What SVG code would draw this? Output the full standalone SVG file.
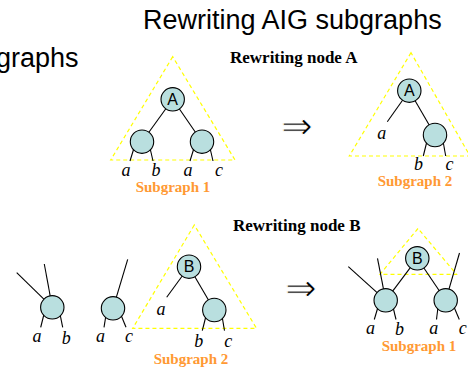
<svg xmlns="http://www.w3.org/2000/svg" width="468" height="369" viewBox="0 0 468 369">
<style>
.title{font-family:"Liberation Sans",Arial,sans-serif;font-size:27px;fill:#000}
.head{font-family:"Liberation Serif","Times New Roman",serif;font-size:17px;font-weight:bold;fill:#000}
.sub{font-family:"Liberation Serif","Times New Roman",serif;font-size:15px;font-weight:bold;fill:#ff9933;text-anchor:middle}
.var{font-family:"Liberation Serif","Times New Roman",serif;font-size:18px;font-style:italic;fill:#000;text-anchor:middle}
.arrow{font-family:"DejaVu Sans",sans-serif;font-size:38px;fill:#000;stroke:#fff;stroke-width:1;text-anchor:middle}
.tri{fill:none;stroke:#ffff00;stroke-width:1.2;stroke-dasharray:4,3}
.edge{stroke:#000;stroke-width:1.1;fill:none}
.node circle{fill:#b9dfdf;stroke:#000;stroke-width:1.1}
.lbl{font-family:"Liberation Sans",Arial,sans-serif;font-size:16px;fill:#000;text-anchor:middle}
</style>
<rect width="468" height="369" fill="#fff"/>
<text class="title" x="143" y="29">Rewriting AIG subgraphs</text>
<text class="title" x="-4" y="67">graphs</text>
<text class="head" x="230" y="63">Rewriting node A</text>
<text class="head" x="233" y="231">Rewriting node B</text>

<g id="subgraphs">
<polygon class="tri" points="172.7,56.7 110.7,160 235,160"/>
<polygon class="tri" points="411,52.7 349.3,156 470,156"/>
<polygon class="tri" points="194.3,225 132.7,328.3 256.5,328.3"/>
<polygon class="tri" points="418,228.5 380,274.3 456.5,274.3"/>
</g>

<g id="connectors">
<line class="edge" x1="172.7" y1="99.3" x2="142" y2="141.7"/>
<line class="edge" x1="172.7" y1="99.3" x2="202" y2="141.7"/>
<line class="edge" x1="134" y1="148" x2="130" y2="161"/>
<line class="edge" x1="150" y1="148" x2="153" y2="161"/>
<line class="edge" x1="194" y1="148" x2="190" y2="161"/>
<line class="edge" x1="210" y1="148" x2="213" y2="161"/>
<line class="edge" x1="409.3" y1="90.7" x2="387.3" y2="121.7"/>
<line class="edge" x1="409.3" y1="90.7" x2="435" y2="135"/>
<line class="edge" x1="427" y1="141" x2="423.3" y2="156"/>
<line class="edge" x1="443" y1="141" x2="445.7" y2="156"/>
<line class="edge" x1="16.7" y1="272.7" x2="52.3" y2="307.3"/>
<line class="edge" x1="44.3" y1="264" x2="52.3" y2="307.3"/>
<line class="edge" x1="44" y1="314" x2="40.7" y2="327.3"/>
<line class="edge" x1="60" y1="314" x2="62.7" y2="327.3"/>
<line class="edge" x1="127.7" y1="259.3" x2="113" y2="308.3"/>
<line class="edge" x1="106" y1="315" x2="104" y2="327.3"/>
<line class="edge" x1="121" y1="315" x2="126" y2="327.3"/>
<line class="edge" x1="189" y1="266.7" x2="166.7" y2="297.3"/>
<line class="edge" x1="189" y1="266.7" x2="214.3" y2="310"/>
<line class="edge" x1="206" y1="316" x2="202.3" y2="330.7"/>
<line class="edge" x1="222" y1="316" x2="224.5" y2="330.7"/>
<line class="edge" x1="417.3" y1="258.3" x2="385.7" y2="300.3"/>
<line class="edge" x1="417.3" y1="258.3" x2="445.7" y2="300.3"/>
<line class="edge" x1="348.3" y1="266.7" x2="385.7" y2="300.3"/>
<line class="edge" x1="377.5" y1="258.3" x2="385.7" y2="300.3"/>
<line class="edge" x1="459.5" y1="253" x2="445.7" y2="300.3"/>
<line class="edge" x1="378" y1="307" x2="374.3" y2="319.5"/>
<line class="edge" x1="393" y1="307" x2="396" y2="319.5"/>
<line class="edge" x1="438" y1="307" x2="436.5" y2="319.5"/>
<line class="edge" x1="454" y1="307" x2="459.3" y2="319.5"/>
</g>

<g id="nodeA1" class="node"><circle cx="172.7" cy="99.3" r="11.7"/><text class="lbl" x="172.7" y="105">A</text></g>
<g id="nodeL1" class="node"><circle cx="142" cy="141.7" r="11.7"/></g>
<g id="nodeR1" class="node"><circle cx="202" cy="141.7" r="11.7"/></g>
<g id="nodeA2" class="node"><circle cx="409.3" cy="90.7" r="11.7"/><text class="lbl" x="409.3" y="96.4">A</text></g>
<g id="nodeR2" class="node"><circle cx="435" cy="135" r="11.7"/></g>
<g id="nodeX1" class="node"><circle cx="52.3" cy="307.3" r="11.7"/></g>
<g id="nodeX2" class="node"><circle cx="113" cy="308.3" r="11.7"/></g>
<g id="nodeB1" class="node"><circle cx="189" cy="266.7" r="11.7"/><text class="lbl" x="189" y="272.4">B</text></g>
<g id="nodeR3" class="node"><circle cx="214.3" cy="310" r="11.7"/></g>
<g id="nodeB2" class="node"><circle cx="417.3" cy="258.3" r="11.7"/><text class="lbl" x="417.3" y="264">B</text></g>
<g id="nodeL4" class="node"><circle cx="385.7" cy="300.3" r="11.7"/></g>
<g id="nodeR4" class="node"><circle cx="445.7" cy="300.3" r="11.7"/></g>

<g id="labels">
<text class="var" x="126" y="176">a</text>
<text class="var" x="156" y="176">b</text>
<text class="var" x="188" y="176">a</text>
<text class="var" x="219" y="176">c</text>
<text class="sub" x="173" y="192">Subgraph 1</text>
<text class="var" x="381.7" y="139.3">a</text>
<text class="var" x="418.5" y="170">b</text>
<text class="var" x="449.5" y="170">c</text>
<text class="sub" x="415" y="186">Subgraph 2</text>
<text class="var" x="37" y="342">a</text>
<text class="var" x="66.2" y="343.5">b</text>
<text class="var" x="100.5" y="342">a</text>
<text class="var" x="129" y="342">c</text>
<text class="var" x="161" y="315">a</text>
<text class="var" x="198.8" y="347.3">b</text>
<text class="var" x="228.3" y="347">c</text>
<text class="sub" x="191" y="363.5">Subgraph 2</text>
<text class="var" x="370.5" y="334">a</text>
<text class="var" x="399.5" y="335">b</text>
<text class="var" x="433.7" y="334">a</text>
<text class="var" x="462.8" y="334">c</text>
<text class="sub" x="419" y="351">Subgraph 1</text>
<text class="arrow" x="297" y="139">⇒</text>
<text class="arrow" x="301" y="301">⇒</text>
</g>
</svg>
